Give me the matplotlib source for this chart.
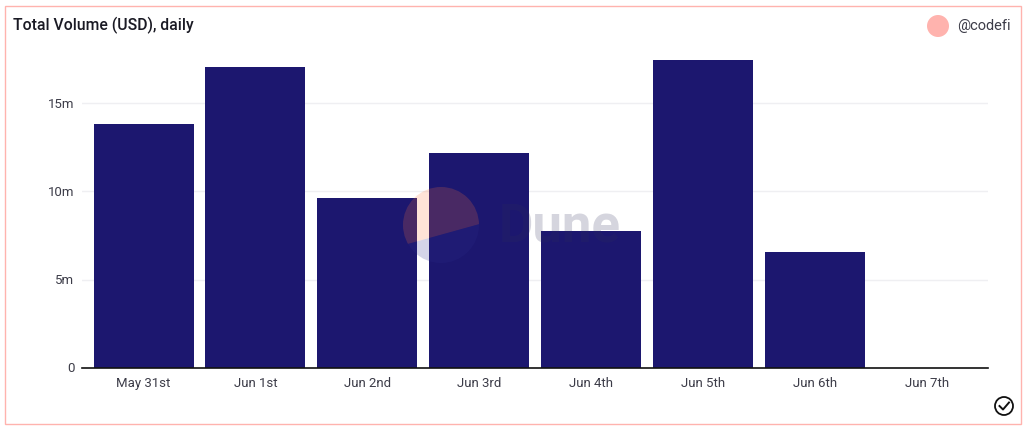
import matplotlib
matplotlib.use("Agg")
import matplotlib.pyplot as plt
from matplotlib.patches import Circle, Polygon, Rectangle

days = ["May 31st", "Jun 1st", "Jun 2nd", "Jun 3rd", "Jun 4th", "Jun 5th", "Jun 6th", "Jun 7th"]
volume_m = [13.84, 17.07, 9.63, 12.19, 7.76, 17.47, 6.56, 0]
y_ticks = [0, 5, 10, 15]
y_tick_labels = ["0", "5m", "10m", "15m"]

W, H = 1024, 426
BAR_COLOR = "#1c176f"
TEXT_COLOR = "#3c3c48"
PINK = "#ffb3ae"

plt.rcParams["font.family"] = ["Roboto", "DejaVu Sans"]

fig = plt.figure(figsize=(W / 100, H / 100), dpi=100, facecolor="white")

# axes placed by pixel, y=0 sits at 367.5px
ax = fig.add_axes([82 / W, 1 - 367.5 / H, (988 - 82) / W, (367.5 - 45) / H])
ax.bar(range(len(days)), volume_m, width=0.894, color=BAR_COLOR, zorder=3)
ax.set_xlim(-0.55, 7.546)
ax.set_ylim(0, 322.5 / 17.6)

ax.set_yticks(y_ticks)
ax.set_yticklabels(y_tick_labels)
ax.set_xticks(range(len(days)))
ax.set_xticklabels(days)
ax.tick_params(axis="both", length=0, labelsize=9.5, labelcolor=TEXT_COLOR)
ax.tick_params(axis="x", pad=7)
ax.tick_params(axis="y", pad=5.5)
ax.grid(axis="y", color="#efeff2", linewidth=1, zorder=0)
for side in ["top", "right", "left"]:
    ax.spines[side].set_visible(False)
ax.spines["bottom"].set_color("#111111")
ax.spines["bottom"].set_linewidth(1.2)
ax.spines["bottom"].set_zorder(4)

# overlay in pixel coordinates for the card, watermark and badges
overlay = fig.add_axes([0, 0, 1, 1], facecolor="none")
overlay.set_xlim(0, W)
overlay.set_ylim(H, 0)
overlay.axis("off")

overlay.add_patch(Rectangle((4.5, 5.5), 1016, 418, fill=False, edgecolor=PINK, linewidth=1))

# Dune watermark: one disc cut in two by a chord below its centre
upper = Circle((441, 225), 38, facecolor="#ff7638", alpha=0.2, linewidth=0)
lower = Circle((441, 225), 38, facecolor="#2c2c8c", alpha=0.2, linewidth=0)
overlay.add_patch(upper)
overlay.add_patch(lower)
upper_clip = Polygon([(395, 247.5), (485, 222.5), (485, 180), (395, 180)], transform=overlay.transData)
lower_clip = Polygon([(395, 247.5), (485, 222.5), (485, 270), (395, 270)], transform=overlay.transData)
upper.set_clip_path(upper_clip)
lower.set_clip_path(lower_clip)
overlay.text(499, 227, "Dune", fontsize=38, fontweight="bold", color="#30305a", alpha=0.2,
             ha="left", va="center")

overlay.text(13, 25.5, "Total Volume (USD), daily", fontsize=11.3, fontweight="medium",
             color="#1a1a24", ha="left", va="center")
overlay.add_patch(Circle((938, 26), 11, facecolor=PINK, linewidth=0))
overlay.text(957, 26, "@codefi", fontsize=10.5, color=TEXT_COLOR, ha="left", va="center")

# check badge, bottom right
overlay.add_patch(Circle((1004, 406), 9, fill=False, edgecolor="#111111", linewidth=1.3))
overlay.plot([999.5, 1003, 1009], [406, 409.5, 402.5], color="#111111", linewidth=1.4)

fig.savefig("out.png", dpi=100)
